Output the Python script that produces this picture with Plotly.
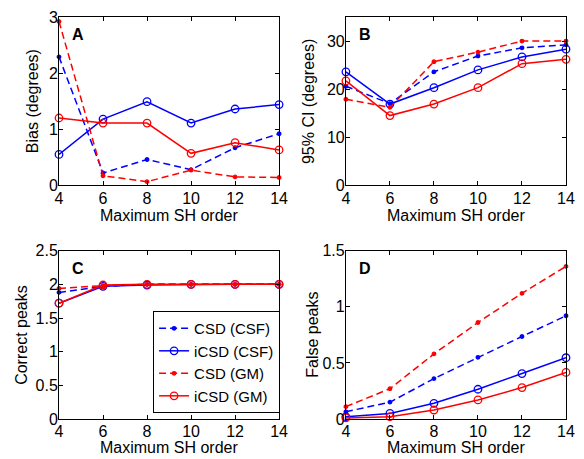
import plotly.graph_objects as go

# SH orders on the x axis
orders = [4, 6, 8, 10, 12, 14]
tick_orders = [4, 6, 8, 10, 12, 14]

series_names = ["CSD (CSF)", "iCSD (CSF)", "CSD (GM)", "iCSD (GM)"]

# A: bias (degrees)
bias_csd_csf = [2.29, 0.22, 0.46, 0.28, 0.67, 0.92]
bias_icsd_csf = [0.55, 1.18, 1.49, 1.11, 1.36, 1.44]
bias_csd_gm = [2.92, 0.17, 0.065, 0.27, 0.15, 0.14]
bias_icsd_gm = [1.20, 1.11, 1.11, 0.57, 0.76, 0.63]

# B: 95% confidence interval (degrees)
ci_csd_csf = [20.6, 17.0, 23.6, 26.9, 28.6, 29.2]
ci_icsd_csf = [23.6, 16.9, 20.3, 24.0, 26.7, 28.3]
ci_csd_gm = [17.9, 16.2, 25.7, 27.7, 30.0, 30.0]
ci_icsd_gm = [21.7, 14.5, 16.9, 20.3, 25.3, 26.2]

# C: number of correct peaks
correct_csd_csf = [1.88, 1.97, 2.0, 2.0, 2.0, 2.0]
correct_icsd_csf = [1.72, 1.97, 1.99, 2.0, 2.0, 2.0]
correct_csd_gm = [1.94, 1.98, 2.0, 2.0, 2.0, 2.0]
correct_icsd_gm = [1.72, 1.99, 2.0, 2.0, 2.0, 2.0]

# D: number of false peaks
false_csd_csf = [0.065, 0.15, 0.36, 0.55, 0.735, 0.92]
false_icsd_csf = [0.02, 0.05, 0.14, 0.265, 0.405, 0.546]
false_csd_gm = [0.11, 0.27, 0.58, 0.86, 1.12, 1.36]
false_icsd_gm = [0.01, 0.02, 0.08, 0.17, 0.28, 0.415]

panels = [
    ("A", "Bias (degrees)", [0, 3], [0, 1, 2, 3],
     [bias_csd_csf, bias_icsd_csf, bias_csd_gm, bias_icsd_gm]),
    ("B", "95% CI (degrees)", [0, 35], [0, 10, 20, 30],
     [ci_csd_csf, ci_icsd_csf, ci_csd_gm, ci_icsd_gm]),
    ("C", "Correct peaks", [0, 2.5], [0, 0.5, 1, 1.5, 2, 2.5],
     [correct_csd_csf, correct_icsd_csf, correct_csd_gm, correct_icsd_gm]),
    ("D", "False peaks", [0, 1.5], [0, 0.5, 1, 1.5],
     [false_csd_csf, false_icsd_csf, false_csd_gm, false_icsd_gm]),
]

BLUE = "#0000ff"
RED = "#ff0000"
styles = [
    dict(color=BLUE, dash="7px,4px", marker="circle", msize=3.5),
    dict(color=BLUE, dash="solid", marker="circle-open", msize=7.5),
    dict(color=RED, dash="7px,4px", marker="circle", msize=3.5),
    dict(color=RED, dash="solid", marker="circle-open", msize=7.5),
]

FONT = "Liberation Sans, Arial, Helvetica, sans-serif"
FS = 16

x_domains = [[0, 224 / 516], [292 / 516, 1]]
y_domains = [[0.5813, 1], [0, 0.4187]]
# pixel offsets of the y titles (left of the axis) and x titles (below the axis)
ytitle_shift = [-27, -38, -37, -33]
xtitle_shift = [-30, -30, -28, -28]

fig = go.Figure()
layout_axes = {}
annotations = []

for i, (letter, ytitle, yrange, yticks, data) in enumerate(panels):
    row, col = divmod(i, 2)
    n = "" if i == 0 else str(i + 1)
    xa, ya = "x" + n, "y" + n
    for name, values, st in zip(series_names, data, styles):
        fig.add_trace(go.Scatter(
            x=orders, y=values, name=name, xaxis=xa, yaxis=ya,
            mode="lines+markers",
            line=dict(color=st["color"], width=1.5, dash=st["dash"]),
            marker=dict(symbol=st["marker"], size=st["msize"], color=st["color"],
                        line=dict(color=st["color"], width=1.3)),
            showlegend=(letter == "C"), cliponaxis=False,
        ))
    axis_common = dict(
        showline=True, linecolor="black", linewidth=1, mirror="ticks",
        ticks="inside", ticklen=4, tickcolor="black", tickwidth=1,
        showgrid=False, zeroline=False,
        tickfont=dict(family=FONT, size=FS, color="black"),
    )
    layout_axes["xaxis" + n] = dict(
        axis_common, domain=x_domains[col], anchor=ya, range=[4, 14],
        tickvals=tick_orders, ticktext=[str(t) for t in tick_orders],
        ticklabelstandoff=-2,
    )
    layout_axes["yaxis" + n] = dict(
        axis_common, domain=y_domains[row], anchor=xa, range=yrange,
        tickvals=yticks, ticktext=[f"{t:g}" for t in yticks],
        ticklabelstandoff=-3,
    )
    annotations.append(dict(
        text="<b>%s</b>" % letter, xref=xa + " domain", yref=ya + " domain",
        x=0.05, y=0.895, xanchor="left", yanchor="middle", showarrow=False,
        font=dict(family=FONT, size=16, color="black"),
    ))
    annotations.append(dict(
        text="Maximum SH order", xref=xa + " domain", yref=ya + " domain",
        x=0.5, y=0, yshift=xtitle_shift[i], xanchor="center", yanchor="middle",
        showarrow=False, font=dict(family=FONT, size=FS, color="black"),
    ))
    annotations.append(dict(
        text=ytitle, xref=xa + " domain", yref=ya + " domain", textangle=-90,
        x=0, xshift=ytitle_shift[i], y=0.5, xanchor="center", yanchor="middle",
        showarrow=False, font=dict(family=FONT, size=FS, color="black"),
    ))

fig.update_layout(
    width=584, height=459,
    margin=dict(l=59, r=9, t=13, b=40),
    paper_bgcolor="white", plot_bgcolor="white",
    font=dict(family=FONT, size=FS, color="black"),
    annotations=annotations,
    legend=dict(
        x=225 / 516, y=6 / 406, xanchor="right", yanchor="bottom",
        bordercolor="black", borderwidth=1, bgcolor="white",
        font=dict(family=FONT, size=15, color="black"),
        tracegroupgap=0, itemwidth=30,
    ),
    **layout_axes,
)

fig.write_html("out.html")
